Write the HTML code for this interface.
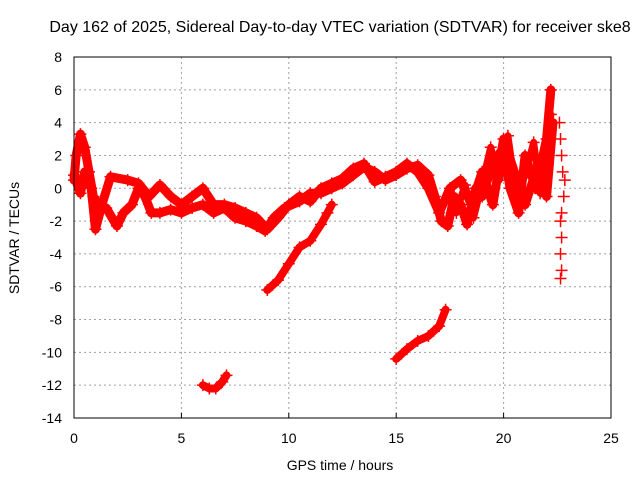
<!DOCTYPE html>
<html><head><meta charset="utf-8"><style>
body{margin:0;background:#fff}
text{font-family:"Liberation Sans",sans-serif;font-size:14px;fill:#000}
</style></head><body>
<svg id="chart" width="640" height="480" xmlns="http://www.w3.org/2000/svg">
<rect width="640" height="480" fill="#fff"/>
<g id="grid"></g>
<g id="series"></g>
<g id="axes"></g>
<text x="340" y="32" text-anchor="middle" style="font-size:16px">Day 162 of 2025, Sidereal Day-to-day VTEC variation (SDTVAR) for receiver ske8</text>
<text x="340" y="470" text-anchor="middle">GPS time / hours</text>
<text x="19" y="238" text-anchor="middle" transform="rotate(-90 19 238)">SDTVAR / TECUs</text>
</svg>
<script>
const xTicks=[0,5,10,15,20,25];
const yTicks=[8,6,4,2,0,-2,-4,-6,-8,-10,-12,-14];
const traceA=[[0,0.5],[0.1,2],[0.3,3.3],[0.5,2.5],[0.7,1],[0.9,-0.5],[1.1,-1],[1.5,-1.2],[2,-2.3],[2.3,-1.5],[2.7,-1],[3,0],[3.3,-0.5],[3.6,-1.5],[4,-1.5],[4.5,-1.3],[5,-1.5],[5.5,-1.2],[6,-1],[6.5,-1.5],[7,-1.2],[7.5,-1.8],[8,-2],[8.5,-2.3],[8.9,-2.6],[9.3,-1.8],[9.8,-1.2],[10.5,-0.8],[11,-0.3],[11.5,-0.3],[12,0],[12.5,0.3],[13,0.8],[13.5,1.3],[14,1.0],[14.5,0.5],[15,0.8],[15.5,1.2],[16,1.4],[16.5,0.8],[16.8,-0.5],[17.1,-2],[17.4,-2.3],[17.7,-0.5],[18,-1],[18.3,-2.2],[18.7,0],[19,-0.5],[19.5,1.5],[20,2.5],[20.3,0],[20.7,-1.5],[21,2],[21.5,0],[22,3],[22.2,6]];
const traceB=[[0,0.8],[0.3,-0.3],[0.5,1],[0.8,0],[1,-2.5],[1.3,-1],[1.7,0.7],[2.5,0.5],[3,0.3],[3.5,-0.5],[4,0.2],[4.5,-0.5],[5,-1],[5.5,-0.5],[6,0],[6.5,-1],[7,-1],[7.5,-1.2],[8,-1.5],[8.5,-1.8],[9,-2.5],[9.5,-1.8],[10,-1],[10.5,-0.5],[11,-0.8],[11.5,0],[12,0.3],[12.5,0.6],[13,1.2],[13.5,1.5],[14,0.4],[14.5,0.7],[15,1],[15.5,1.5],[16,1.0],[16.5,0],[17,-1.5],[17.5,0],[18,0.5],[18.5,-1],[19,1],[19.5,-1],[20,3],[20.5,1],[21,-1],[21.5,1],[22,-0.5],[22.3,4]];
const traceG=[[17.8,-1.5],[18.2,0.2],[18.6,-1.8],[19,0.3],[19.4,2.5],[19.8,0.5],[20.2,3.2],[20.6,-0.5],[21,0.8],[21.4,2.8],[21.7,-0.3],[22,2],[22.2,4.5]];
const traceC=[[6.0,-12],[6.3,-12.2],[6.6,-12.2],[6.9,-11.8],[7.1,-11.4]];
const traceD=[[9,-6.2],[9.5,-5.6],[10,-4.6],[10.5,-3.6],[11,-3.2],[11.5,-2.2],[11.8,-1.5],[12,-1]];
const traceE=[[15,-10.4],[15.5,-9.8],[16,-9.3],[16.5,-9],[17,-8.4],[17.3,-7.4]];
const traceF=[[22.6,4],[22.65,3],[22.7,2],[22.75,1],[22.85,0.5],[22.8,-0.5],[22.7,-1.5],[22.65,-2],[22.7,-3],[22.65,-4],[22.7,-5],[22.65,-5.5]];
const X=v=>74+v*(611-74)/25;
const Y=v=>57+(8-v)*(418-57)/22;
const NS="http://www.w3.org/2000/svg";
function mk(t,a,p){const e=document.createElementNS(NS,t);for(const k in a)e.setAttribute(k,a[k]);p.appendChild(e);return e;}
const grid=document.getElementById('grid'),axes=document.getElementById('axes'),ser=document.getElementById('series');
for(const t of xTicks){
 if(t>0&&t<25){const l=mk('line',{x1:X(t),x2:X(t),y1:57,y2:418,stroke:'#a0a0a0','stroke-dasharray':'2,3'},grid);
 }
 const tk=mk('line',{x1:X(t),x2:X(t),y1:418,y2:413,stroke:'#000'},axes);
 
 const tx=mk('text',{x:X(t),y:443,'text-anchor':'middle'},axes);tx.textContent=t;
 
}
for(const t of yTicks){
 if(t>-14&&t<8){const l=mk('line',{x1:74,x2:611,y1:Y(t),y2:Y(t),stroke:'#a0a0a0','stroke-dasharray':'2,3'},grid);
 }
 const tx=mk('text',{x:62,y:Y(t)+5,'text-anchor':'end'},axes);tx.textContent=t;
 
}
const fr=mk('rect',{x:74,y:57,width:537,height:361,fill:'none',stroke:'#000'},axes);

const traces=[[traceA,9],[traceB,9],[traceG,7],[traceC,8],[traceD,8],[traceE,8],[traceF,0]];
traces.forEach(([tr,w],i)=>{
 const g=mk('g',{},ser);
 
 if(w){const pl=mk('polyline',{points:tr.map(p=>X(p[0])+','+Y(p[1])).join(' '),fill:'none',stroke:'#ff0000','stroke-width':w,'stroke-linejoin':'round','stroke-linecap':'round'},g);
 }
 for(const p of tr){const x=X(p[0]),y=Y(p[1]);
  const m=mk('path',{d:`M${x-6},${y}H${x+6}M${x},${y-6}V${y+6}`,stroke:'#ff0000','stroke-width':1.5},g);
  }
});
</script>
</body></html>
